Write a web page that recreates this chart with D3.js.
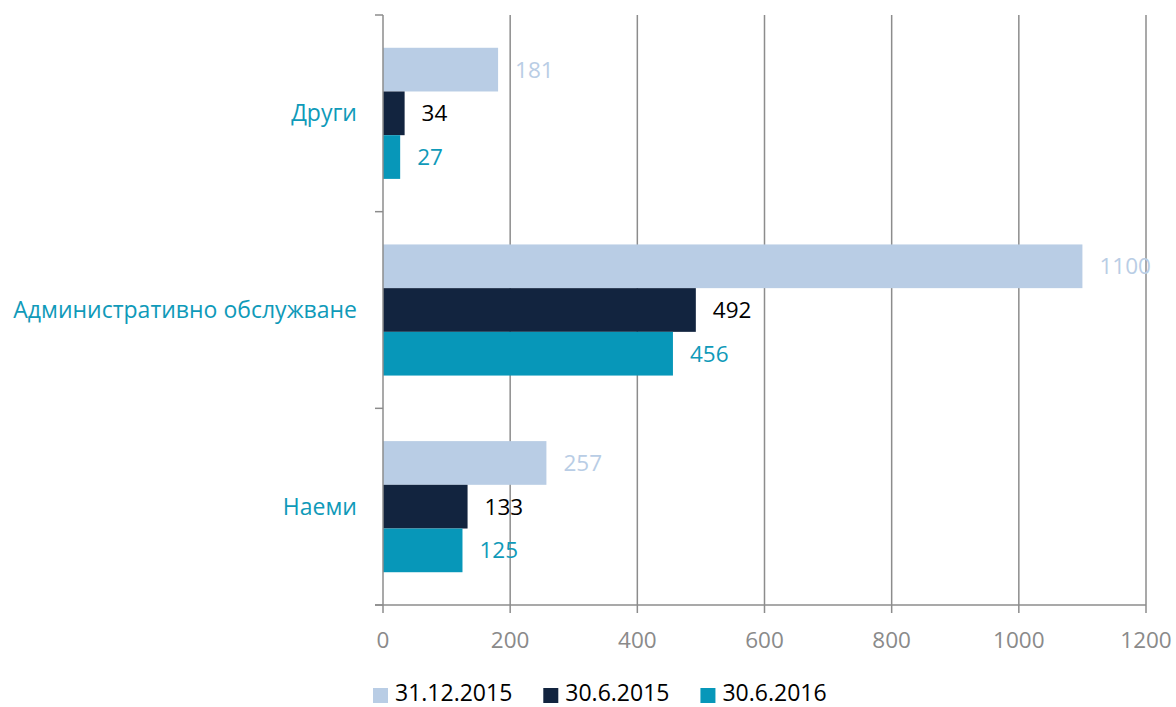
<!DOCTYPE html>
<html>
<head>
<meta charset="utf-8">
<script src="https://cdn.jsdelivr.net/npm/d3@7"></script>
<style>
  body { margin: 0; background: #fff; }
  svg text { font-family: "Open Sans", "Noto Sans", sans-serif; }
</style>
</head>
<body>
<svg id="chart" width="1176" height="707"></svg>
<script>
// categories, top to bottom
const categories = ['Други', 'Административно обслужване', 'Наеми'];
// series (legend order)
const seriesNames = ['31.12.2015', '30.6.2015', '30.6.2016'];
const values_31_12_2015 = [181, 1100, 257];
const values_30_6_2015 = [34, 492, 133];
const values_30_6_2016 = [27, 456, 125];
const xTicks = [0, 200, 400, 600, 800, 1000, 1200];

const colors = ['#b9cde5', '#12243f', '#0797b9'];
const labelColors = ['#b9cde5', '#000000', '#0f9ab9'];

const seriesValues = [values_31_12_2015, values_30_6_2015, values_30_6_2016];

const svg = d3.select('#chart');
const plotLeft = 383, plotRight = 1146, plotTop = 15, plotBottom = 605;

const x = d3.scaleLinear().domain([0, 1200]).range([plotLeft, plotRight]);
const y0 = d3.scaleBand().domain(categories).range([plotTop, plotBottom]);
const bw = y0.bandwidth();
const y1 = d3.scaleBand().domain(seriesNames).range([bw / 6, bw * 5 / 6]);

// vertical gridlines (with ticks below the axis)
svg.append('g')
  .selectAll('line')
  .data(xTicks.slice(1))
  .enter().append('line')
  .attr('x1', d => x(d)).attr('x2', d => x(d))
  .attr('y1', plotTop).attr('y2', plotBottom + 8)
  .attr('stroke', '#8c8c8c')
  .attr('stroke-width', 1.5);

// bars
const rows = [];
categories.forEach((c, i) => {
  seriesNames.forEach((s, j) => {
    rows.push({ cat: c, series: s, idx: j, value: seriesValues[j][i] });
  });
});

svg.append('g')
  .selectAll('rect')
  .data(rows)
  .enter().append('rect')
  .attr('x', x(0))
  .attr('y', d => y0(d.cat) + y1(d.series))
  .attr('width', d => x(d.value) - x(0))
  .attr('height', y1.bandwidth())
  .attr('fill', d => colors[d.idx]);

// value labels
svg.append('g')
  .selectAll('text')
  .data(rows)
  .enter().append('text')
  .attr('x', d => x(d.value) + 17)
  .attr('y', d => y0(d.cat) + y1(d.series) + y1.bandwidth() / 2)
  .attr('dy', '0.35em')
  .attr('font-size', 22.5)
  .attr('fill', d => labelColors[d.idx])
  .text(d => d.value);

// left axis line + category ticks
svg.append('line')
  .attr('x1', plotLeft).attr('x2', plotLeft)
  .attr('y1', plotTop).attr('y2', plotBottom + 8)
  .attr('stroke', '#8c8c8c').attr('stroke-width', 1.5);

const yTickPos = categories.map(c => y0(c)).concat([plotBottom]);
svg.append('g')
  .selectAll('line')
  .data(yTickPos)
  .enter().append('line')
  .attr('x1', plotLeft - 8).attr('x2', plotLeft)
  .attr('y1', d => d).attr('y2', d => d)
  .attr('stroke', '#8c8c8c').attr('stroke-width', 1.5);

// bottom axis line
svg.append('line')
  .attr('x1', plotLeft - 8).attr('x2', plotRight)
  .attr('y1', plotBottom).attr('y2', plotBottom)
  .attr('stroke', '#8c8c8c').attr('stroke-width', 1.5);

// category labels
svg.append('g')
  .selectAll('text')
  .data(categories)
  .enter().append('text')
  .attr('x', plotLeft - 26)
  .attr('y', d => y0(d) + bw / 2)
  .attr('dy', '0.35em')
  .attr('text-anchor', 'end')
  .attr('font-size', 23)
  .attr('fill', '#0f9ab9')
  .text(d => d);

// x tick labels
svg.append('g')
  .selectAll('text')
  .data(xTicks)
  .enter().append('text')
  .attr('x', d => x(d))
  .attr('y', 640)
  .attr('dy', '0.35em')
  .attr('text-anchor', 'middle')
  .attr('font-size', 22.5)
  .attr('fill', '#8a8a8a')
  .text(d => d);

// legend
const legend = svg.append('g');
let lx = 373;
seriesNames.forEach((s, j) => {
  legend.append('rect')
    .attr('x', lx).attr('y', 688)
    .attr('width', 15).attr('height', 15)
    .attr('fill', colors[j]);
  const t = legend.append('text')
    .attr('x', lx + 22).attr('y', 701)
    .attr('font-size', 23)
    .attr('fill', '#000')
    .text(s);
  lx += 22 + t.node().getComputedTextLength() + 31;
});
</script>
</body>
</html>
